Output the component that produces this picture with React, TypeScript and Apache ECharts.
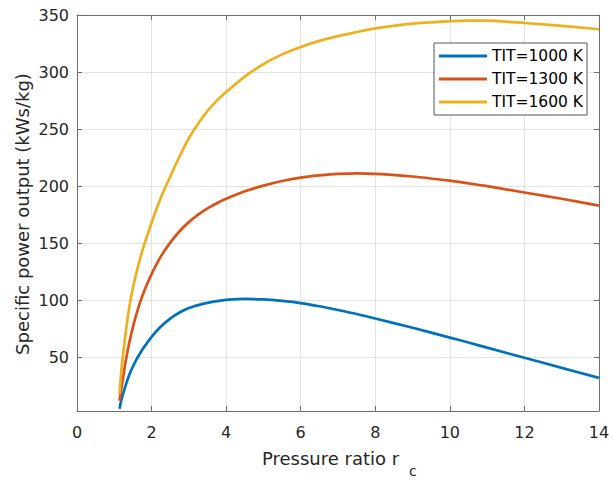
import React, { useEffect, useRef } from "react";
import * as echarts from "echarts";

const xValues = [1.14, 1.2, 1.3, 1.4, 1.5, 1.6, 1.7, 1.8, 2, 2.25, 2.5, 2.75, 3, 3.25, 3.5, 3.75, 4, 4.5, 5, 5.5, 6, 6.5, 7, 7.5, 8, 9, 10, 10.5, 11, 12, 13, 14];
const tit1000 = [5, 14, 25, 34.5, 42, 48.5, 54, 59, 68, 77, 84, 89.3, 93.2, 95.8, 97.8, 99.3, 100.3, 101.2, 100.8, 99.5, 97.6, 94.8, 91.5, 88, 84, 76, 67.3, 63, 58.5, 49.7, 40.8, 32];
const tit1300 = [12, 25, 45.5, 62.5, 76.5, 88.5, 99, 108, 123, 138.5, 150.5, 160.5, 168.5, 175, 180.5, 185, 189, 195.5, 200.5, 204.5, 207.5, 209.4, 210.8, 211.2, 210.8, 208.5, 204.8, 202.5, 200, 194.5, 189, 183];
const tit1600 = [18, 42, 70, 93.5, 111, 125, 137.5, 148.5, 168, 190, 208.5, 226, 242, 255, 266, 275, 282.5, 296, 307, 315.5, 322, 327.3, 331.5, 335, 338.3, 342.5, 344.5, 345, 345, 343, 340.5, 337.5];

const seriesNames = ["TIT=1000 K", "TIT=1300 K", "TIT=1600 K"];
const seriesColors = ["#0072BD", "#D95319", "#EDB120"];
const xTitle = "Pressure ratio r";
const xTitleSub = "c";
const yTitle = "Specific power output (kWs/kg)";

const FONT = "DejaVu Sans";
const TXT = "#262626";
const AX = "#6e6e6e";

export default function App() {
  const ref = useRef<HTMLDivElement>(null);
  useEffect(() => {
    if (!ref.current) return;
    const chart = echarts.init(ref.current, null, { renderer: "svg" });
    const all = [tit1000, tit1300, tit1600];
    const pair = (ys: number[]) => xValues.map((x, i) => [x, ys[i]]);
    const baseX = {
      type: "value" as const,
      min: 0,
      max: 14,
      interval: 2,
    };
    const baseY = {
      type: "value" as const,
      min: 3,
      max: 350,
      splitNumber: 7,
    };
    chart.setOption({
      animation: false,
      backgroundColor: "#ffffff",
      grid: { left: 77, right: 15, top: 15, bottom: 72, containLabel: false },
      xAxis: [
        {
          ...baseX,
          position: "bottom",
          axisLine: { show: true, lineStyle: { color: AX, width: 1 } },
          axisTick: { show: true, inside: true, length: 5, lineStyle: { color: AX } },
          axisLabel: { color: TXT, fontFamily: FONT, fontSize: 16, margin: 13 },
          splitLine: { show: true, lineStyle: { color: "#e3e3e3", width: 1 } },
        },
        {
          ...baseX,
          position: "top",
          axisLine: { show: true, onZero: false, lineStyle: { color: AX, width: 1 } },
          axisTick: { show: true, inside: true, length: 5, lineStyle: { color: AX } },
          axisLabel: { show: false },
          splitLine: { show: false },
        },
      ],
      yAxis: [
        {
          ...baseY,
          position: "left",
          axisLine: { show: true, lineStyle: { color: AX, width: 1 } },
          axisTick: { show: true, inside: true, length: 5, lineStyle: { color: AX } },
          axisLabel: {
            color: TXT,
            fontFamily: FONT,
            fontSize: 16,
            margin: 8,
            formatter: (v: number) => (v % 50 === 0 ? String(v) : ""),
          },
          splitLine: { show: true, lineStyle: { color: "#e3e3e3", width: 1 } },
        },
        {
          ...baseY,
          position: "right",
          axisLine: { show: true, onZero: false, lineStyle: { color: AX, width: 1 } },
          axisTick: { show: true, inside: true, length: 5, lineStyle: { color: AX } },
          axisLabel: { show: false },
          splitLine: { show: false },
        },
      ],
      legend: {
        left: 434,
        top: 43,
        orient: "vertical",
        data: seriesNames,
        icon: "rect",
        itemWidth: 48,
        itemHeight: 3,
        itemGap: 7,
        padding: [5, 4, 5, 5],
        backgroundColor: "#ffffff",
        borderColor: "#555555",
        borderWidth: 1,
        borderRadius: 0,
        textStyle: { color: "#000000", fontFamily: FONT, fontSize: 15.5 },
      },
      graphic: [
        {
          type: "text",
          left: 262,
          top: 449,
          style: { text: xTitle, fill: TXT, font: `18px "${FONT}"` },
        },
        {
          type: "text",
          left: 409,
          top: 464,
          style: { text: xTitleSub, fill: TXT, font: `14px "${FONT}"` },
        },
        {
          type: "text",
          x: 22,
          y: 214,
          rotation: Math.PI / 2,
          style: {
            text: yTitle,
            fill: TXT,
            font: `18px "${FONT}"`,
            align: "center",
            verticalAlign: "middle",
          },
        },
      ],
      series: all.map((ys, i) => ({
        name: seriesNames[i],
        type: "line",
        xAxisIndex: 0,
        yAxisIndex: 0,
        data: pair(ys),
        showSymbol: false,
        smooth: 0.25,
        lineStyle: { color: seriesColors[i], width: 2.7 },
        itemStyle: { color: seriesColors[i] },
        z: 3,
      })),
    });
    return () => chart.dispose();
  }, []);
  return (
    <div
      ref={ref}
      style={{ position: "fixed", left: 0, top: 0, width: 614, height: 483, background: "#fff" }}
    />
  );
}
